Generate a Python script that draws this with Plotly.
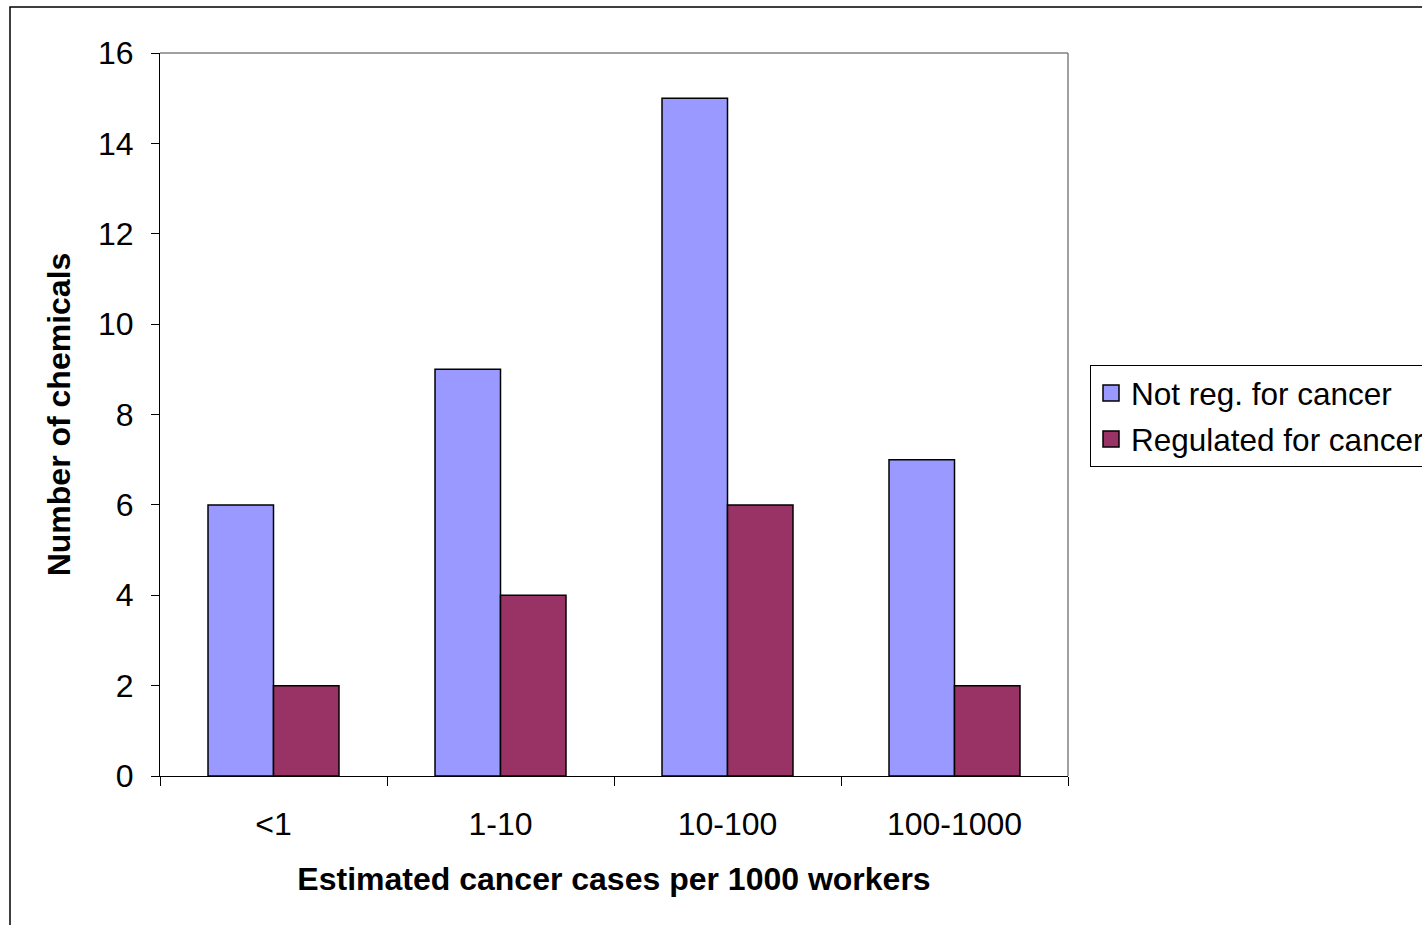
import plotly.graph_objects as go

categories = ["<1", "1-10", "10-100", "100-1000"]
not_regulated = [6, 9, 15, 7]
regulated = [2, 4, 6, 2]
series_names = ["Not reg. for cancer", "Regulated for cancer"]
series_colors = ["#9999FF", "#993366"]
y_ticks = [0, 2, 4, 6, 8, 10, 12, 14, 16]

W, H = 1422, 925
L, R, T, B = 160, 1068, 53, 776
pw, ph = R - L, B - T

FONT = "Liberation Sans, Arial, sans-serif"

fig = go.Figure()
for name, vals, col in zip(series_names, [not_regulated, regulated], series_colors):
    fig.add_trace(go.Bar(x=categories, y=vals, name=name, showlegend=False,
                         marker=dict(color=col, line=dict(color="black", width=1.5))))
for i, (name, col) in enumerate(zip(series_names, series_colors)):
    fig.add_trace(go.Scatter(x=[None], y=[None], mode="markers", name=name,
                             legendgroup=f"g{i}",
                             marker=dict(symbol="square", size=16, color=col,
                                         line=dict(color="black", width=1.5))))

fig.update_layout(
    width=W, height=H,
    margin=dict(l=L, r=W - R, t=T, b=H - B, pad=0, autoexpand=False),
    paper_bgcolor="white", plot_bgcolor="white",
    barmode="group", bargap=0.423, bargroupgap=0,
    font=dict(family=FONT, size=31.5, color="black"),
    showlegend=True,
    legend=dict(xref="container", yref="container",
                x=1090 / W, y=1 - 365 / H, xanchor="left", yanchor="top",
                bordercolor="black", borderwidth=1, bgcolor="white",
                font=dict(family=FONT, size=31.5, color="black"),
                tracegroupgap=2, itemwidth=30, itemsizing="trace"),
    xaxis=dict(
        type="category", showline=True, linecolor="black", linewidth=1,
        ticks="outside", ticklen=9, tickcolor="black", tickson="boundaries",
        showgrid=False, zeroline=False, ticklabelstandoff=20,
        tickfont=dict(family=FONT, size=32),
        title=dict(text="<b>Estimated cancer cases per 1000 workers</b>",
                   font=dict(family=FONT, size=32), standoff=26),
    ),
    yaxis=dict(
        range=[0, 16], tickvals=y_ticks, showline=True, linecolor="black", linewidth=1,
        ticks="outside", ticklen=8, tickcolor="black", showgrid=False, zeroline=False,
        ticklabelstandoff=11,
        tickfont=dict(family=FONT, size=32),
        title=dict(text="<b>Number of chemicals</b>",
                   font=dict(family=FONT, size=32), standoff=17),
    ),
    shapes=[
        dict(type="line", xref="paper", yref="paper", x0=0, x1=1, y0=1, y1=1,
             line=dict(color="#808080", width=1.5)),
        dict(type="line", xref="paper", yref="paper", x0=1, x1=1, y0=0, y1=1,
             line=dict(color="#808080", width=1.5)),
        dict(type="rect", xref="paper", yref="paper",
             x0=(10 - L) / pw, x1=(W + 50 - L) / pw,
             y0=(B - (H + 50)) / ph, y1=(B - 7) / ph,
             line=dict(color="black", width=1.5), fillcolor="rgba(0,0,0,0)", layer="below"),
    ],
)

fig.write_html("out.html", config={"displayModeBar": False},
               post_script="document.body.style.margin='0px';document.body.style.overflow='hidden';")
